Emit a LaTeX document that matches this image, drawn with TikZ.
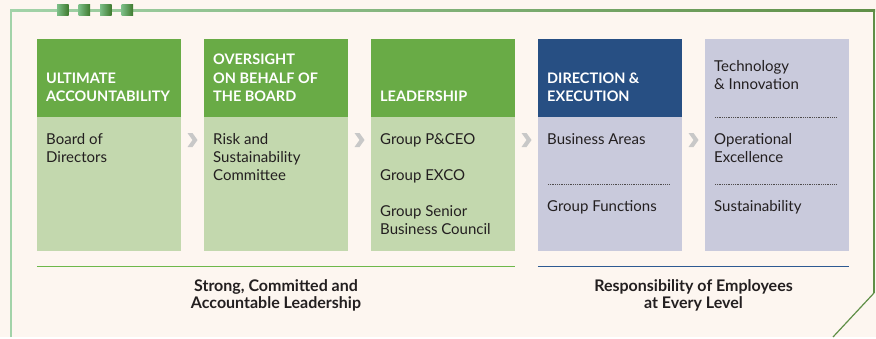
\documentclass[tikz,border=0pt]{standalone}
\usepackage{fontspec}
\setmainfont{Lato}
\usetikzlibrary{calc}

\definecolor{paper}{HTML}{FDF6F0}
\definecolor{headgreen}{HTML}{69AB46}
\definecolor{bodygreen}{HTML}{C3D8AE}
\definecolor{headblue}{HTML}{274F83}
\definecolor{bodyblue}{HTML}{C9CADC}
\definecolor{chevgray}{HTML}{C8C8C8}
\definecolor{rulegreen}{HTML}{6DB84A}
\definecolor{ruleblue}{HTML}{2D5A92}
\definecolor{framelight}{HTML}{A2D3A9}
\definecolor{framedark}{HTML}{5F8F47}
\definecolor{sqlight}{HTML}{7DBF88}
\definecolor{sqdark}{HTML}{3F7A2E}
\definecolor{ink}{HTML}{231F20}

\tikzset{
  head/.style     = {minimum width=144pt, minimum height=78pt, inner sep=0pt},
  body/.style     = {minimum width=144pt, minimum height=134pt, inner sep=0pt},
  headtext/.style = {anchor=south west, inner sep=0pt, align=left, text=white,
                     font=\fontsize{14.5}{18.5}\selectfont\bfseries},
  bodytext/.style = {anchor=north west, inner sep=0pt, align=left, text=ink,
                     font=\fontsize{15}{18}\selectfont},
  dotline/.style  = {draw=ink!80, line width=0.7pt, dash pattern=on 0.7pt off 1.1pt},
  footer/.style   = {anchor=north, inner sep=0pt, align=center, text=ink,
                     font=\fontsize{16}{17}\selectfont\bfseries},
}

\begin{document}
\begin{tikzpicture}[x=1pt, y=-1pt]
  % page and frame
  \fill[paper] (0,0) rectangle (876,337);
  \draw[framelight, line width=2pt] (11,337) -- (11,10);
  \shade[left color=framelight, right color=framedark] (10,9) rectangle (875,11);
  \draw[framedark, line width=2pt] (874,10) -- (874,293);
  \draw[framedark, line width=1.2pt] (874,293) -- (833,337);
  \foreach \x in {57,78.5,100,121.5}
    \shade[left color=sqlight, right color=sqdark] (\x,4) rectangle +(11.5,11.5);

  % the five columns
  \node [head, fill=headgreen] (h1) at (109,78)  {};
  \node [body, fill=bodygreen] (b1) at (109,184) {};
  \node [head, fill=headgreen] (h2) at (276,78)  {};
  \node [body, fill=bodygreen] (b2) at (276,184) {};
  \node [head, fill=headgreen] (h3) at (443,78)  {};
  \node [body, fill=bodygreen] (b3) at (443,184) {};
  \node [head, fill=headblue]  (h4) at (610,78)  {};
  \node [body, fill=bodyblue]  (b4) at (610,184) {};
  \node [body, fill=bodyblue, minimum height=212pt] (b5) at (777,145) {};

  \node [headtext] (t1) at (46,102)  {ULTIMATE\\ACCOUNTABILITY};
  \node [headtext] (t2) at (213,102) {OVERSIGHT\\ON BEHALF OF\\THE BOARD};
  \node [headtext] (t3) at (380,102) {LEADERSHIP};
  \node [headtext] (t4) at (547,102) {DIRECTION \&\\EXECUTION};

  \node [bodytext] (s1) at (46,133)  {Board of\\Directors};
  \node [bodytext] (s2) at (213,133) {Risk and\\Sustainability\\Committee};
  \node [bodytext] (s3) at (380,133) {Group P\&CEO\\[18pt]Group EXCO\\[18.5pt]Group Senior\\Business Council};
  \node [bodytext] (s4) at (547,133) {Business Areas};
  \node [bodytext] (s5) at (547,200) {Group Functions};
  \node [bodytext] (s6) at (714,60)  {Technology\\\& Innovation};
  \node [bodytext] (s7) at (714,133) {Operational\\Excellence};
  \node [bodytext] (s8) at (714,200) {Sustainability};

  \draw[dotline] (548,184) -- (670,184);
  \draw[dotline] (715,117) -- (837,117);
  \draw[dotline] (715,184) -- (837,184);

  % chevrons between the columns
  \foreach \x in {192.5,359.5,526.5,693.5}
    \fill[chevgray] (\x,140) ++(-5,-7) -- ++(5,0) -- ++(5,7) -- ++(-5,7) -- ++(-5,0) -- ++(5,-7) -- cycle;

  % rules and captions underneath
  \draw[rulegreen, line width=1.4pt] ([yshift=-15pt]b1.south west) -- ([yshift=-15pt]b3.south east);
  \draw[ruleblue, line width=1.4pt]  ([yshift=-15pt]b4.south west) -- ([yshift=-15pt]b5.south east);
  \node [footer] (f1) at (276,279) {Strong, Committed and\\Accountable Leadership};
  \node [footer] (f2) at (693.5,279) {Responsibility of Employees\\at Every Level};
\end{tikzpicture}
\end{document}
